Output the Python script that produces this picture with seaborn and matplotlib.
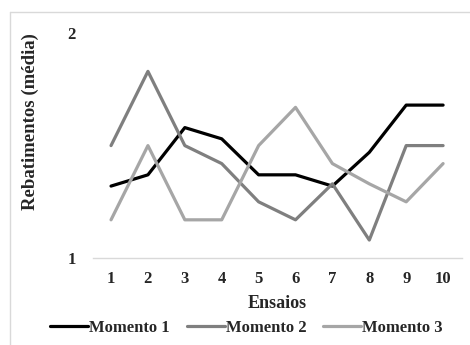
import matplotlib
matplotlib.use('Agg')
from matplotlib import pyplot as plt
from matplotlib.lines import Line2D
import pandas as pd
import seaborn as sns

ensaios = [1, 2, 3, 4, 5, 6, 7, 8, 9, 10]
momento_1 = [1.32, 1.37, 1.58, 1.53, 1.37, 1.37, 1.32, 1.47, 1.68, 1.68]
momento_2 = [1.50, 1.83, 1.50, 1.42, 1.25, 1.17, 1.33, 1.08, 1.50, 1.50]
momento_3 = [1.17, 1.50, 1.17, 1.17, 1.50, 1.67, 1.42, 1.33, 1.25, 1.42]
series_names = ['Momento 1', 'Momento 2', 'Momento 3']
colors = ['#000000', '#7f7f7f', '#a6a6a6']

df = pd.DataFrame({
    'Ensaios': ensaios * 3,
    'valor': momento_1 + momento_2 + momento_3,
    'serie': [s for s in series_names for _ in ensaios],
})

sns.set_theme(style='white')
plt.rcParams['font.family'] = ['Liberation Serif', 'DejaVu Serif']
plt.rcParams['font.weight'] = 'bold'
fs = 12

fig = plt.figure(figsize=(4.7, 3.45), dpi=100)
ax = fig.add_axes([0.197, 0.252, 0.785, 0.652])

sns.lineplot(data=df, x='Ensaios', y='valor', hue='serie',
             palette=dict(zip(series_names, colors)), linewidth=2.3,
             ax=ax, legend=False)

ax.set_xlim(0.5, 10.5)
ax.set_ylim(1, 2)
ax.set_xticks(ensaios)
ax.set_xticklabels([str(e) for e in ensaios], fontsize=fs, fontweight='bold')
ax.set_yticks([1, 2])
ax.set_yticklabels(['1', '2'], fontsize=fs, fontweight='bold')
ax.tick_params(axis='both', length=0)
ax.tick_params(axis='y', pad=12)
ax.tick_params(axis='x', pad=9)
for side in ['top', 'right', 'left']:
    ax.spines[side].set_visible(False)
ax.spines['bottom'].set_color('#d9d9d9')
ax.spines['bottom'].set_linewidth(1)
ax.set_ylabel('')
ax.set_xlabel('Ensaios', fontsize=fs + 1, fontweight='bold', labelpad=6)

fig.text(30 / 470, 1 - 122 / 345, 'Rebatimentos (média)', rotation=90,
         ha='center', va='center', fontsize=fs + 1.5, fontweight='bold')

handles = [Line2D([], [], color=c, linewidth=2.3) for c in colors]
fig.legend(handles, series_names, loc='center', ncol=3,
           bbox_to_anchor=(246.5 / 470, 1 - 328 / 345), frameon=False,
           prop={'size': fs, 'weight': 'bold'}, handlelength=2.3,
           handletextpad=0.05, columnspacing=1.0, borderpad=0)

# chart area border (top and left edges visible)
fig.add_artist(Line2D([10 / 470, 1], [1 - 12 / 345, 1 - 12 / 345],
                      color='#d9d9d9', linewidth=1, transform=fig.transFigure))
fig.add_artist(Line2D([10 / 470, 10 / 470], [0, 1 - 12 / 345],
                      color='#d9d9d9', linewidth=1, transform=fig.transFigure))

fig.savefig('out.png', dpi=100)
